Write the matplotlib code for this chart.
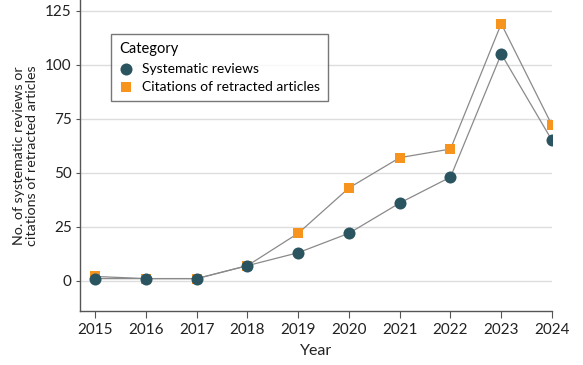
import matplotlib
matplotlib.use("Agg")
import matplotlib.pyplot as plt

years = [2015, 2016, 2017, 2018, 2019, 2020, 2021, 2022, 2023, 2024]
systematic_reviews = [1, 1, 1, 7, 13, 22, 36, 48, 105, 65]
citations_retracted = [2, 1, 1, 7, 22, 43, 57, 61, 119, 72]
yticks = [0, 25, 50, 75, 100, 125]

plt.rcParams['font.family'] = ['Lato', 'DejaVu Sans']

teal = '#2b5461'
orange = '#f7941d'
spine_c = '#555555'

fig = plt.figure(figsize=(5.83, 3.65), dpi=100)
ax = fig.add_axes([80/583, (365-311)/365, 472/583, 311/365])

ax.plot(years, citations_retracted, color='#8a8a8a', lw=0.9, zorder=2)
ax.plot(years, systematic_reviews, color='#8a8a8a', lw=0.9, zorder=2)
ax.scatter(years, citations_retracted, marker='s', s=62, color=orange, zorder=3,
           label='Citations of retracted articles', linewidths=0)
ax.scatter(years, systematic_reviews, marker='o', s=75, color=teal, zorder=4,
           label='Systematic reviews', linewidths=0)

ax.set_xlim(2014.7, 2024)
ax.set_ylim(-14, 130)
ax.set_xticks(years)
ax.set_yticks(yticks)
ax.yaxis.grid(True, color='#dddddd', lw=1)
ax.set_axisbelow(True)
for s in ['top', 'right']:
    ax.spines[s].set_visible(False)
for s in ['left', 'bottom']:
    ax.spines[s].set_color(spine_c)
    ax.spines[s].set_linewidth(1)
ax.tick_params(axis='x', length=5, color=spine_c, labelsize=11, labelcolor='#222222')
ax.tick_params(axis='y', length=3, color=spine_c, labelsize=11, labelcolor='#222222', pad=3)
ax.set_xlabel('Year', fontsize=11.5, color='#222222', labelpad=5)
ax.set_ylabel('No. of systematic reviews or\ncitations of retracted articles', fontsize=10.3,
              color='#222222', labelpad=5, linespacing=1.15)

h, l = ax.get_legend_handles_labels()
leg = ax.legend([h[1], h[0]], [l[1], l[0]], title='Category', loc='upper left',
                bbox_to_anchor=(31/472, 1 - 34/311), borderaxespad=0, frameon=True, fancybox=False,
                edgecolor='#555555', fontsize=10, title_fontsize=10.5,
                handletextpad=0.6, borderpad=0.6, labelspacing=0.45, handlelength=1.0)
leg.get_frame().set_linewidth(1)
leg._legend_box.align = 'left'

fig.savefig('out.png', dpi=100)
